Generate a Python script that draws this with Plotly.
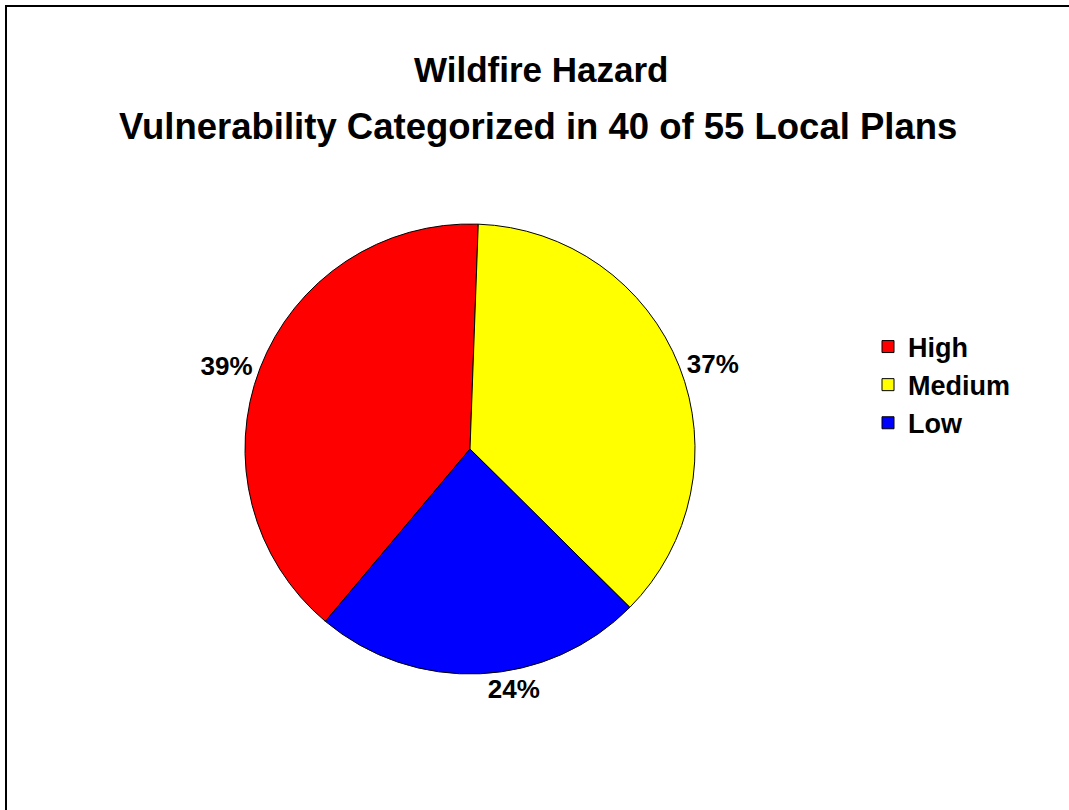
import plotly.graph_objects as go

title_lines = ["Wildfire Hazard", "Vulnerability Categorized in 40 of 55 Local Plans"]
categories = ["High", "Medium", "Low"]
plan_counts = [15, 14, 9]
slice_colors = ["#FF0000", "#FFFF00", "#0000FF"]

W, H = 1069, 810
cx, cy, half = 470, 449, 225

fig = go.Figure()
fig.add_trace(go.Pie(
    labels=categories,
    values=plan_counts,
    sort=False,
    direction="clockwise",
    rotation=220,
    marker=dict(colors=slice_colors, line=dict(color="black", width=1)),
    texttemplate="%{percent:.0%}",
    textposition="outside",
    textfont=dict(family="Liberation Sans, Arial", size=26, color="black", weight="bold"),
    domain=dict(x=[(cx - half) / W, (cx + half) / W], y=[1 - (cy + half) / H, 1 - (cy - half) / H]),
    showlegend=True,
    hoverinfo="label+percent",
))

fig.add_annotation(text="<b>%s</b>" % title_lines[0], x=541 / W, y=1 - 70 / H, xref="paper", yref="paper",
                   showarrow=False, xanchor="center", yanchor="middle",
                   font=dict(family="Liberation Sans, Arial", size=35, color="black"))
fig.add_annotation(text="<b>%s</b>" % title_lines[1], x=538 / W, y=1 - 126 / H, xref="paper", yref="paper",
                   showarrow=False, xanchor="center", yanchor="middle",
                   font=dict(family="Liberation Sans, Arial", size=36.5, color="black"))

fig.add_shape(type="rect", xref="paper", yref="paper", x0=6 / W, x1=1.05, y0=-0.05, y1=1 - 6 / H,
              line=dict(color="black", width=2), fillcolor="rgba(0,0,0,0)")

fig.update_layout(
    width=W, height=H,
    margin=dict(l=0, r=0, t=0, b=0),
    paper_bgcolor="white", plot_bgcolor="white",
    legend=dict(x=868 / W, y=1 - 385 / H, xanchor="left", yanchor="middle",
                font=dict(family="Liberation Sans, Arial", size=27, color="black", weight="bold"),
                bgcolor="rgba(0,0,0,0)"),
)

fig.write_html("out.html")
